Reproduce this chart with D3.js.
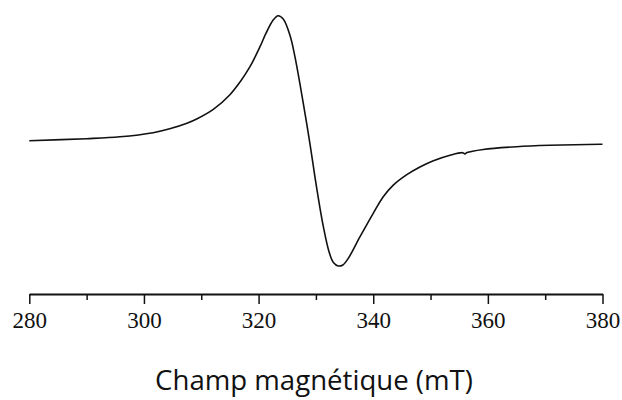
<!DOCTYPE html>
<html>
<head>
<meta charset="utf-8">
<script src="https://cdn.jsdelivr.net/npm/d3@7"></script>
<style>
  body { margin: 0; background: #fff; }
  svg { display: block; }
</style>
</head>
<body>
<svg width="622" height="400"></svg>
<script>
// magnetic field (mT) and signal (arbitrary units)
let field = [280.0, 290.0, 295.8, 301.6, 304.5, 307.5, 309.2, 312.1, 315.0, 316.8,
             318.5, 320.25, 321.3, 322.55, 323.4, 324.3, 325.5, 326.35, 327.8, 328.95,
             330.1, 331.3, 332.3, 333.05, 333.9, 334.7, 335.65, 337.7, 340.0, 341.75,
             343.5, 345.8, 348.15, 350.5, 353.4, 355.6, 356.0, 356.35, 359.2, 365.0,
             370.8, 379.7, 380.0];
let signal = [0.0, 1.6, 3.1, 6.4, 9.5, 13.9, 17.3, 25.0, 36.8, 47.2,
              59.2, 75.2, 86.0, 96.5, 100.0, 97.4, 84.0, 67.0, 29.9, -2.1,
              -36.8, -68.8, -89.0, -97.4, -100.2, -99.4, -94.1, -76.8, -58.1, -44.8,
              -35.5, -27.3, -21.0, -16.0, -11.6, -9.6, -10.6, -9.5, -7.0, -4.8,
              -3.7, -2.9, -2.9];

let majorTicks = [280, 300, 320, 340, 360, 380];
let minorTicks = [290, 310, 330, 350, 370];
let xTitle = 'Champ magnétique (mT)';

let margin = { left: 29.3, right: 19.5, axisY: 294 };

let svg = d3.select('svg');
let width = +svg.attr('width');

let xScale = d3.scaleLinear()
    .domain([280, 380])
    .range([margin.left, width - margin.right]);

let yScale = d3.scaleLinear()
    .domain([-100, 100])
    .range([265.7, 15.7]);

let points = field.map((f, i) => [f, signal[i]]);

let line = d3.line()
    .x(d => xScale(d[0]))
    .y(d => yScale(d[1]))
    .curve(d3.curveCatmullRom.alpha(0.5));

svg.append('path')
    .datum(points)
    .attr('fill', 'none')
    .attr('stroke', '#111')
    .attr('stroke-width', 1.6)
    .attr('stroke-linejoin', 'round')
    .attr('d', line);

// minor ticks first, then the main axis on top
svg.append('g')
    .attr('transform', 'translate(0,' + margin.axisY + ')')
    .call(d3.axisBottom(xScale).tickValues(minorTicks).tickSize(6).tickSizeOuter(0).tickFormat(''))
    .call(g => g.select('.domain').remove())
    .call(g => g.selectAll('line').attr('stroke', '#111').attr('stroke-width', 1.5));

let xAxis = svg.append('g')
    .attr('transform', 'translate(0,' + margin.axisY + ')')
    .call(d3.axisBottom(xScale).tickValues(majorTicks).tickSize(10).tickSizeOuter(0).tickPadding(8));

xAxis.select('.domain').attr('stroke', '#111').attr('stroke-width', 1.8);
xAxis.selectAll('line').attr('stroke', '#111').attr('stroke-width', 1.5);
xAxis.selectAll('text')
    .attr('fill', '#111')
    .style('font-family', '"Liberation Serif", "Times New Roman", serif')
    .style('font-size', '23px');

// axis title, sized to the width it takes in the picture
let title = svg.append('text')
    .attr('x', 314)
    .attr('y', 390)
    .attr('text-anchor', 'middle')
    .attr('fill', '#111')
    .style('font-family', '"Open Sans", sans-serif')
    .style('font-size', '26px')
    .text(xTitle);

let tw = title.node().getComputedTextLength();
title.style('font-size', (26 * 318 / tw).toFixed(1) + 'px');
</script>
</body>
</html>
